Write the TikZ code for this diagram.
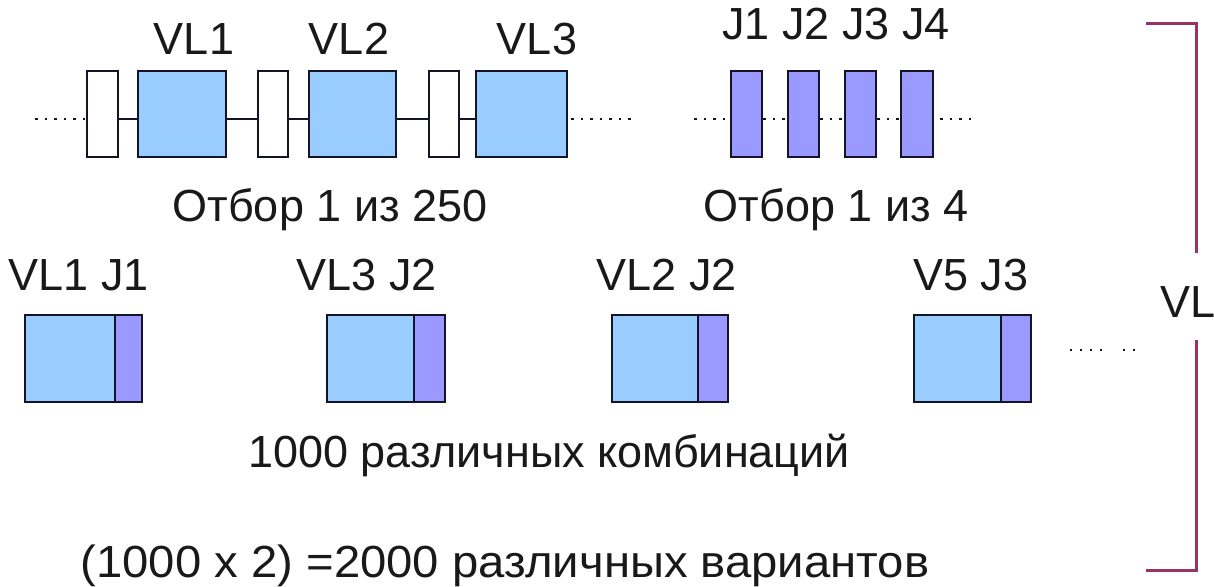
\documentclass[tikz,border=0pt]{standalone}
\usepackage{fontspec}
\setmainfont{Liberation Sans}
\definecolor{outl}{HTML}{141428}
\definecolor{vlblue}{HTML}{99CCFF}
\definecolor{jpurple}{HTML}{9999FF}
\definecolor{brk}{HTML}{993366}
\begin{document}
\begin{tikzpicture}[x=1pt,y=-1pt,
  box/.style={draw=outl,line width=2.5pt,inner sep=0pt,minimum height=86pt},
  wbox/.style={box,fill=white,minimum width=30pt},
  vbox/.style={box,fill=vlblue,minimum width=88pt},
  jbox/.style={box,fill=jpurple,minimum width=31pt},
  lbl/.style={anchor=base,inner sep=0pt,text=black!90,font=\fontsize{45}{50}\selectfont},
  conn/.style={line width=2.5pt,draw=outl},
  dotline/.style={line width=2.5pt,draw=outl,dash pattern=on 2.5pt off 7pt},
  brkline/.style={line width=3pt,draw=brk}]
\path[use as bounding box,clip] (0,0) rectangle (1214,586);
% top row: VL chain
\node[wbox,minimum width=31pt] (w1) at (102.5,114) {};
\node[vbox] (b1) at (182,114) {};
\node[wbox] (w2) at (273,114) {};
\node[vbox,minimum width=87pt] (b2) at (352.5,114) {};
\node[wbox] (w3) at (444,114) {};
\node[vbox,minimum width=91pt] (b3) at (521.5,114) {};
\coordinate (ln) at (0,119);
\coordinate (dl) at (35,119);
\coordinate (dr) at (637,119);
\draw[dotline] (dl) -- (w1.west|-ln);
\draw[conn] (w1.east|-ln) -- (b1.west|-ln);
\draw[conn] (b1.east|-ln) -- (w2.west|-ln);
\draw[conn] (w2.east|-ln) -- (b2.west|-ln);
\draw[conn] (b2.east|-ln) -- (w3.west|-ln);
\draw[conn] (w3.east|-ln) -- (b3.west|-ln);
\draw[dotline] (b3.east|-ln) ++(3,0) -- (dr);
\node[lbl] (lvl1) at (194,55) {VL1};
\node[lbl] (lvl2) at (349,55) {VL2};
\node[lbl] (lvl3) at (537,55) {VL3};
\node[lbl] (sel1) at (330,221) {Отбор 1 из 250};
% top row: J boxes
\node[jbox] (j1) at (746.5,114) {};
\node[jbox] (j2) at (803.5,114) {};
\node[jbox] (j3) at (860.5,114) {};
\node[jbox,minimum width=32pt] (j4) at (917,114) {};
\coordinate (jl) at (694,119);
\coordinate (jr) at (978,119);
\draw[dotline] (jl) -- (j1.west|-ln);
\draw[dotline] (j1.east|-ln) -- (j2.west|-ln);
\draw[dotline] (j2.east|-ln) -- (j3.west|-ln);
\draw[dotline] (j3.east|-ln) -- (j4.west|-ln);
\draw[dotline] (j4.east|-ln) ++(6,0) -- (jr);
\node[lbl] (lj) at (836,40) {J1 J2 J3 J4};
\node[lbl] (sel2) at (836,221) {Отбор 1 из 4};
% bottom row: combinations
\node[box,fill=vlblue,minimum width=90pt,minimum height=87pt] (c1v) at (70,358.5) {};
\node[box,fill=jpurple,minimum width=27pt,minimum height=87pt] (c1j) at (128.5,358.5) {};
\node[box,fill=vlblue,minimum width=87pt,minimum height=87pt] (c2v) at (370.5,358.5) {};
\node[box,fill=jpurple,minimum width=31pt,minimum height=87pt] (c2j) at (429.5,358.5) {};
\node[box,fill=vlblue,minimum width=86pt,minimum height=87pt] (c3v) at (655,358.5) {};
\node[box,fill=jpurple,minimum width=30pt,minimum height=87pt] (c3j) at (713,358.5) {};
\node[box,fill=vlblue,minimum width=87pt,minimum height=87pt] (c4v) at (957.5,358.5) {};
\node[box,fill=jpurple,minimum width=30pt,minimum height=87pt] (c4j) at (1016,358.5) {};
\node[lbl] (lc1) at (79,290) {VL1 J1};
\node[lbl] (lc2) at (367,290) {VL3 J2};
\node[lbl] (lc3) at (667,290) {VL2 J2};
\node[lbl] (lc4) at (971,290) {V5 J3};
\coordinate (m1) at (1070,350);
\coordinate (m2) at (1106,350);
\coordinate (m3) at (1123,350);
\coordinate (m4) at (1137,350);
\draw[dotline,line width=2pt,dash pattern=on 2pt off 8pt] (m1) -- (m2);
\draw[dotline,line width=2pt,dash pattern=on 2pt off 8pt] (m3) -- (m4);
\node[lbl] (comb) at (549,467) {1000 различных комбинаций};
\node[lbl] (var) at (505,577) {\scalebox{1.05}[1]{(1000 x 2) =2000 различных вариантов}};
% bracket
\coordinate (bt1) at (1146,24);
\coordinate (bt2) at (1196,24);
\coordinate (bm1) at (1196,253);
\coordinate (bm2) at (1196,340);
\coordinate (bb1) at (1196,570);
\coordinate (bb2) at (1146,570);
\draw[brkline] (bt1) -- (bt2) -- (bm1);
\draw[brkline] (bm2) -- (bb1) -- (bb2);
\node[lbl,anchor=base west] (vl) at (1160,317) {VL};
\end{tikzpicture}
\end{document}
